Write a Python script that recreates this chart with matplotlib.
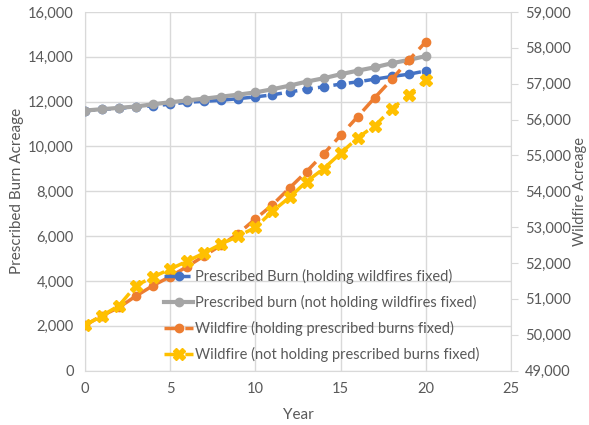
import matplotlib.pyplot as plt
from matplotlib.ticker import FuncFormatter, MultipleLocator

plt.rcParams['font.family'] = ['Lato', 'DejaVu Sans']

years = list(range(0, 21))

# prescribed burn acreage (left axis)
rx_fixed = [11600, 11650, 11700, 11760, 11810, 11880, 11970, 12010, 12060, 12130,
            12210, 12300, 12430, 12550, 12660, 12780, 12880, 13000, 13120, 13220, 13370]
rx_free = [11600, 11660, 11720, 11780, 11880, 11970, 12050, 12130, 12220, 12310,
           12410, 12550, 12710, 12890, 13040, 13220, 13380, 13530, 13710, 13860, 14030]

# wildfire acreage (right axis)
wf_fixed = [50260, 50530, 50760, 51080, 51370, 51620, 51900, 52200, 52500, 52820,
            53230, 53620, 54090, 54550, 55040, 55560, 56080, 56610, 57120, 57660, 58170]
wf_free = [50260, 50530, 50810, 51370, 51610, 51830, 52050, 52280, 52530, 52750,
           52990, 53440, 53830, 54270, 54630, 55060, 55490, 55830, 56290, 56690, 57100]

labels = ['Prescribed Burn (holding wildfires fixed)',
          'Prescribed burn (not holding wildfires fixed)',
          'Wildfire (holding prescribed burns fixed)',
          'Wildfire (not holding prescribed burns fixed)']

txt = '#595959'
grid = '#d9d9d9'

fig, ax1 = plt.subplots(figsize=(5.89, 4.25), dpi=100)
fig.subplots_adjust(left=0.144, right=0.868, top=0.972, bottom=0.128)
ax2 = ax1.twinx()

l1, = ax1.plot(years, rx_fixed, color='#4472c4', lw=2.5, marker='o', ms=6,
               dashes=(3, 1.5), label=labels[0], zorder=3)
l2, = ax1.plot(years, rx_free, color='#a5a5a5', lw=3, marker='o', ms=6,
               label=labels[1], zorder=4)
l3, = ax2.plot(years, wf_fixed, color='#ed7d31', lw=2.5, marker='o', ms=6,
               dashes=(4, 2), label=labels[2], zorder=3)
l4, = ax2.plot(years, wf_free, color='#ffc000', lw=2.5, marker='X', ms=9,
               dashes=(4, 2), label=labels[3], zorder=4)

ax1.set_xlim(0, 25)
ax1.set_ylim(0, 16000)
ax2.set_ylim(49000, 59000)
ax1.xaxis.set_major_locator(MultipleLocator(5))
ax1.yaxis.set_major_locator(MultipleLocator(2000))
ax2.yaxis.set_major_locator(MultipleLocator(1000))
fmt = FuncFormatter(lambda v, p: f'{int(v):,}')
ax1.yaxis.set_major_formatter(fmt)
ax2.yaxis.set_major_formatter(fmt)

ax1.grid(True, color=grid, lw=1)
ax1.set_axisbelow(True)
for ax in (ax1, ax2):
    for s in ax.spines.values():
        s.set_visible(False)
ax1.spines['left'].set_visible(True)
ax1.spines['left'].set_color(grid)
ax1.spines['bottom'].set_visible(True)
ax1.spines['bottom'].set_color(grid)
ax2.spines['right'].set_visible(True)
ax2.spines['right'].set_color(grid)

ax1.tick_params(axis='both', length=0, labelsize=10.5, labelcolor=txt, pad=8)
ax2.tick_params(axis='y', length=5, color=grid, labelsize=10.5, labelcolor=txt, pad=5)

ax1.set_xlabel('Year', fontsize=11, color=txt, labelpad=9)
ax1.set_ylabel('Prescribed Burn Acreage', fontsize=11, color=txt, labelpad=3)
ax2.set_ylabel('Wildfire Acreage', fontsize=10.5, color=txt, labelpad=1)

leg = ax2.legend(handles=[l1, l2, l3, l4], loc='lower left',
                 bbox_to_anchor=(0.165, 0.0), frameon=False, fontsize=10.5,
                 handlelength=2.0, handletextpad=0.1, labelspacing=0.75,
                 borderaxespad=0.2)
for t in leg.get_texts():
    t.set_color(txt)

plt.savefig('out.png', dpi=100)
